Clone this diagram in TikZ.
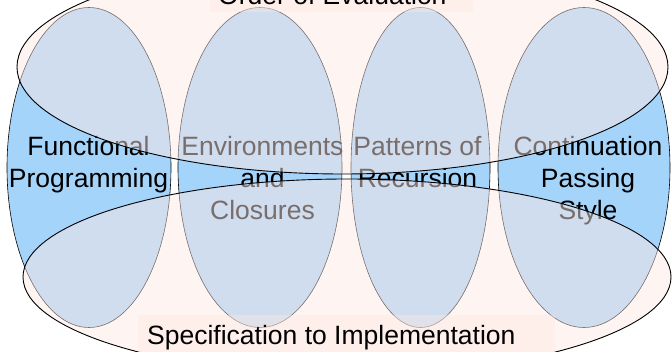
\documentclass[tikz,border=0pt]{standalone}
\usepackage{fontspec}
\setmainfont{Liberation Sans}
\definecolor{vblue}{RGB}{165,212,251}
\definecolor{veil}{RGB}{253,232,226}
\begin{document}
\begin{tikzpicture}[x=1pt,y=-1pt,
  vert/.style={fill=vblue,draw=black,line width=0.6pt},
  horiz/.style={fill=veil,fill opacity=0.48,draw=black,line width=0.9pt},
  lbl/.style={fill=veil,fill opacity=0.4,draw=none},
  txt/.style={font=\fontsize{26.5}{32}\selectfont,anchor=base,inner sep=0pt}]
\useasboundingbox (0,0) rectangle (672,352);
\clip (0,0) rectangle (672,352);
% vertical ellipses
\draw[vert] (89,167.5) ellipse [x radius=82,y radius=160];
\draw[vert] (260,167.5) ellipse [x radius=82,y radius=160];
\draw[vert] (420.5,167.5) ellipse [x radius=69.5,y radius=160];
\draw[vert] (584,167.5) ellipse [x radius=86,y radius=160];
% texts of vertical ellipses
\node[txt] (fp1) at (88.5,156) {Functional};
\node[txt] (fp2) at (88.5,188) {Programming};
\node[txt] (ec1) at (262.5,156) {Environments};
\node[txt] (ec2) at (262.5,188) {and};
\node[txt] (ec3) at (262.5,220) {Closures};
\node[txt] (pr1) at (417.5,156) {Patterns of};
\node[txt] (pr2) at (417.5,188) {Recursion};
\node[txt] (cp1) at (588,156) {Continuation};
\node[txt] (cp2) at (588,188) {Passing};
\node[txt] (cp3) at (588,220) {Style};
% horizontal ellipses
\draw[horiz] (342.5,67) ellipse [x radius=325.5,y radius=107];
\draw[horiz] (347,277) ellipse [x radius=324,y radius=98];
% label backgrounds
\fill[lbl] (210,-25) rectangle (473,12);
\fill[lbl] (138,315) rectangle (555,360);
\node[txt,anchor=base west] (oe) at (218,5) {Order of Evaluation};
\node[txt,anchor=base west] (si) at (147,345) {Specification to Implementation};
\end{tikzpicture}
\end{document}
